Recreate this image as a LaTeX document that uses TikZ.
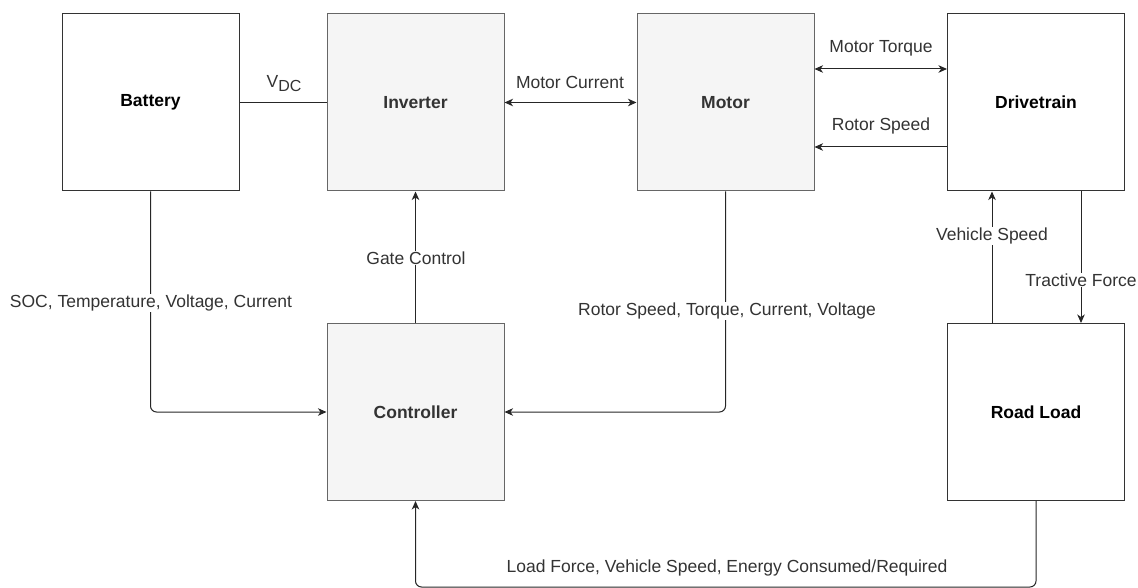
\documentclass[tikz,border=0pt]{standalone}
\usepackage{fontspec}
\setmainfont{Liberation Sans}
\usetikzlibrary{arrows.meta}
\definecolor{boxgrey}{HTML}{F5F5F5}
\definecolor{greyline}{HTML}{666666}
\definecolor{txtgrey}{HTML}{333333}
\begin{document}
\begin{tikzpicture}[x=1pt,y=-1pt,
  font=\fontsize{17.5}{21}\selectfont,
  block/.style={draw=txtgrey, line width=1pt, fill=white, minimum width=177pt, minimum height=177pt, inner sep=0pt, font=\fontsize{17.5}{21}\selectfont\bfseries, text=black},
  gblock/.style={block, draw=greyline, fill=boxgrey, text=txtgrey},
  conn/.style={draw=black!85, line width=1pt},
  arr/.style={conn, -{Stealth[length=8.5pt,width=7.5pt,inset=2.5pt]}},
  darr/.style={conn, {Stealth[length=8.5pt,width=7.5pt,inset=2.5pt]}-{Stealth[length=8.5pt,width=7.5pt,inset=2.5pt]}},
  lbl/.style={text=txtgrey, inner sep=1pt},
  wlbl/.style={lbl, fill=white}]
\useasboundingbox (0,0) rectangle (1138,588);

\node[block]  (bat)  at (150.5,102.5) {Battery};
\node[gblock] (inv)  at (415.5,102.5) {Inverter};
\node[gblock] (mot)  at (725.5,102.5) {Motor};
\node[block]  (drv)  at (1036,102.5) {Drivetrain};
\node[gblock] (ctl)  at (415.5,412) {Controller};
\node[block]  (road) at (1036,412) {Road Load};

% Battery - Inverter
\draw[conn] (bat.east) -- (inv.west);
\node[lbl] (vdc) at (284,84) {V\raisebox{-4pt}{\fontsize{16}{19}\selectfont DC}};

% Inverter <-> Motor
\draw[darr] (inv.east) -- (mot.west);
\node[lbl] (mc) at (570,82) {Motor Current};

% Motor <-> Drivetrain
\draw[darr] (mot.east |- 0,69) -- (drv.west |- 0,69);
\node[lbl] (mt) at (881,48) {Motor Torque};
\draw[arr] (drv.west |- 0,147) -- (mot.east |- 0,147);
\node[lbl] (rs) at (881,126) {Rotor Speed};

% Controller -> Inverter
\draw[arr] (ctl.north) -- (inv.south);
\node[wlbl] (gc) at (416,258) {Gate Control};

% Battery -> Controller
\draw[arr, rounded corners=6pt] (bat.south) -- (150.5,412) -- (ctl.west);
\node[wlbl] (soc) at (151,303) {SOC, Temperature, Voltage, Current};

% Motor -> Controller
\draw[arr, rounded corners=6pt] (mot.south) -- (725.5,412) -- (ctl.east);
\node[wlbl] (mfb) at (727,311) {Rotor Speed, Torque, Current, Voltage};

% Road Load -> Drivetrain
\draw[arr] (road.north -| 992,0) -- (drv.south -| 992,0);
\node[wlbl] (vs) at (992,236) {Vehicle Speed};

% Drivetrain -> Road Load
\draw[arr] (drv.south -| 1081,0) -- (road.north -| 1081,0);
\node[wlbl] (tf) at (1081,280) {Tractive Force};

% Road Load -> Controller
\draw[arr, rounded corners=6pt] (road.south) -- (1036,587) -- (415.5,587) -- (ctl.south);
\node[lbl] (lf) at (727,568) {Load Force, Vehicle Speed, Energy Consumed/Required};
\end{tikzpicture}
\end{document}
